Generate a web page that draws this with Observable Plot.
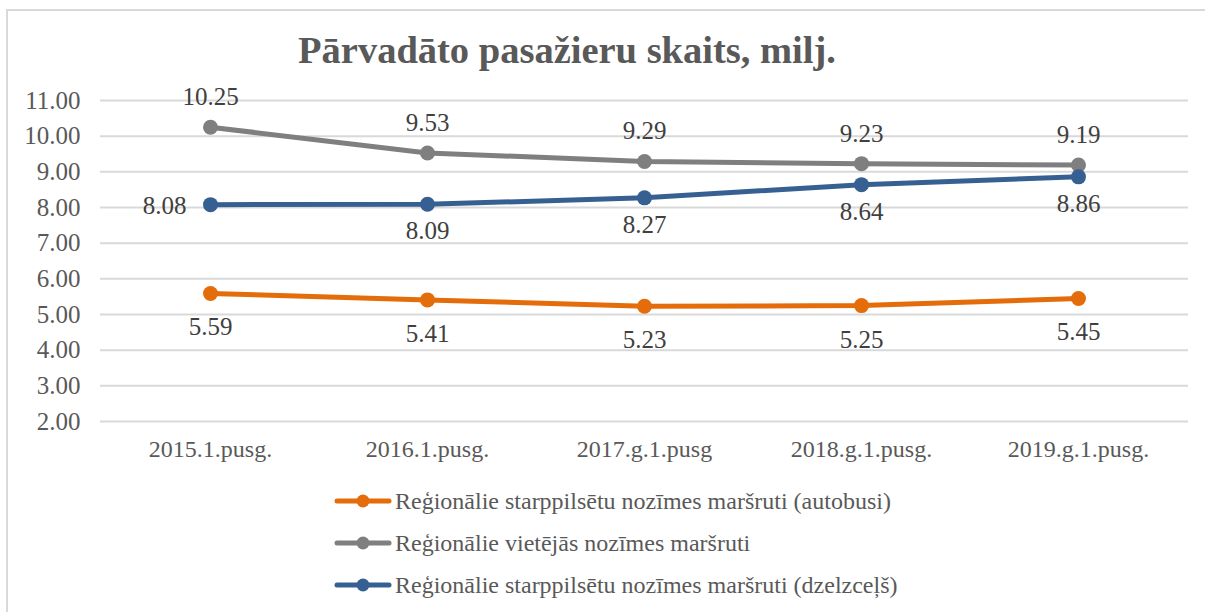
<!DOCTYPE html>
<html>
<head>
<meta charset="utf-8">
<script src="https://cdn.jsdelivr.net/npm/d3@7"></script>
<script src="https://cdn.jsdelivr.net/npm/@observablehq/plot@0.6"></script>
<style>
  html, body { margin: 0; padding: 0; background: #fff; }
  body { width: 1205px; height: 612px; position: relative; overflow: hidden; font-family: "Liberation Serif", "Times New Roman", serif; }
  #frame { position: absolute; left: 6px; top: 9px; width: 1215px; height: 620px; border: 2px solid #d9d9d9; box-sizing: border-box; }
  #title { position: absolute; left: 0; top: 28px; width: 1134px; text-align: center; font-size: 38.5px; line-height: 44px; font-weight: bold; color: #595959; }
  #chart { position: absolute; left: 0; top: 80px; }
  #legend { position: absolute; left: 333px; top: 480px; font-size: 24px; color: #595959; }
  .li { display: flex; align-items: center; height: 42px; }
  .li svg { margin-right: 2px; }
</style>
</head>
<body>
<div id="frame"></div>
<div id="title">Pārvadāto pasažieru skaits, milj.</div>
<div id="chart"></div>
<div id="legend"></div>
<script>
const categories = ["2015.1.pusg.", "2016.1.pusg.", "2017.g.1.pusg", "2018.g.1.pusg.", "2019.g.1.pusg."];
const seriesNames = [
  "Reģionālie starppilsētu nozīmes maršruti (autobusi)",
  "Reģionālie vietējās nozīmes maršruti",
  "Reģionālie starppilsētu nozīmes maršruti (dzelzceļš)"
];
const autobusi = [5.59, 5.41, 5.23, 5.25, 5.45];
const vietejas = [10.25, 9.53, 9.29, 9.23, 9.19];
const dzelzcels = [8.08, 8.09, 8.27, 8.64, 8.86];
const yTicks = [2, 3, 4, 5, 6, 7, 8, 9, 10, 11];
const colors = ["#E46C0A", "#7F7F7F", "#376092"];

const seriesValues = [autobusi, vietejas, dzelzcels];
const data = [];
seriesValues.forEach((vals, s) => vals.forEach((v, i) => data.push({cat: categories[i], value: v, series: seriesNames[s], s, i})));

const font = "Liberation Serif, Times New Roman, serif";
const labelFill = "#404040";
const labelSize = 25;
const chart = Plot.plot({
  width: 1205,
  height: 390,
  marginLeft: 100,
  marginRight: 17,
  marginTop: 20,
  marginBottom: 49,
  style: {fontFamily: font, fontSize: "24px", color: "#595959", background: "transparent"},
  x: {domain: categories, type: "point", padding: 0.5},
  y: {domain: [2, 11]},
  color: {domain: seriesNames, range: colors},
  marks: [
    Plot.gridY(yTicks, {stroke: "#d9d9d9", strokeOpacity: 1, strokeWidth: 2}),
    Plot.axisY(yTicks, {tickFormat: d => d.toFixed(2), label: null, tickSize: 0, tickPadding: 20, fontSize: 25, fill: "#595959"}),
    Plot.axisX({label: null, tickSize: 0, tickPadding: 18, fontSize: 24, fill: "#595959"}),
    Plot.line(data, {x: "cat", y: "value", z: "series", stroke: "series", strokeWidth: 5, strokeLinejoin: "round", strokeLinecap: "round"}),
    Plot.dot(data, {x: "cat", y: "value", fill: "series", r: 7.5, stroke: "none"}),
    Plot.text(data.filter(d => d.s === 0), {x: "cat", y: "value", text: d => d.value.toFixed(2), dy: 34, fill: labelFill, fontSize: labelSize}),
    Plot.text(data.filter(d => d.s === 1), {x: "cat", y: "value", text: d => d.value.toFixed(2), dy: -30, fill: labelFill, fontSize: labelSize}),
    Plot.text(data.filter(d => d.s === 2 && d.i > 0), {x: "cat", y: "value", text: d => d.value.toFixed(2), dy: 27, fill: labelFill, fontSize: labelSize}),
    Plot.text(data.filter(d => d.s === 2 && d.i === 0), {x: "cat", y: "value", text: d => d.value.toFixed(2), dx: -46, dy: 1, fill: labelFill, fontSize: labelSize})
  ]
});
document.getElementById("chart").appendChild(chart);

const legend = document.getElementById("legend");
seriesNames.forEach((name, s) => {
  const row = document.createElement("div");
  row.className = "li";
  row.innerHTML = `<svg width="60" height="16"><line x1="4" y1="8" x2="56" y2="8" stroke="${colors[s]}" stroke-width="5" stroke-linecap="round"/><circle cx="30" cy="8" r="6.5" fill="${colors[s]}"/></svg><span>${name}</span>`;
  legend.appendChild(row);
});
</script>
</body>
</html>
